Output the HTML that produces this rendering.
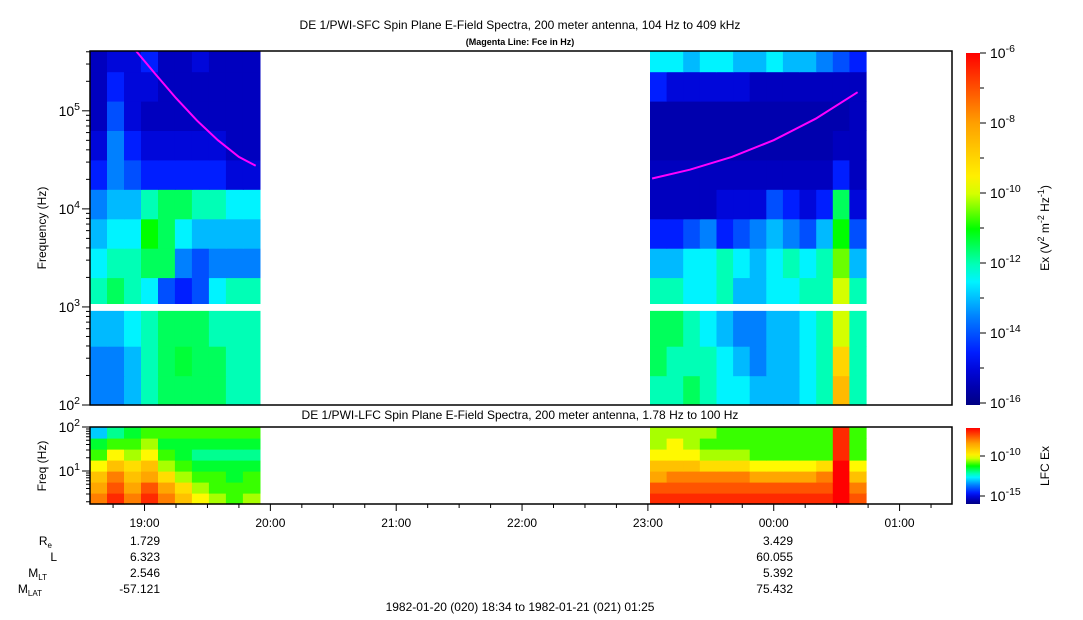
<!DOCTYPE html>
<html><head><meta charset="utf-8"><style>
body{margin:0;background:#fff;}
svg{display:block;font-family:"Liberation Sans",sans-serif;}
</style></head><body>
<svg id="c" width="1083" height="620" xmlns="http://www.w3.org/2000/svg"></svg>
<script>
// ---- data ----
const startMin = -26;           // minutes relative to 19:00 (18:34)
const endMin = 385;             // 01:25
const seg1 = [-26, 55];         // data span minutes (18:34 - 19:55)
const seg2 = [241, 344];        // 23:01 - 00:44
const sfcRowEdges = [2.0,2.3,2.6,3.0,3.3,3.6,3.9,4.2,4.5,4.8,5.1,5.4,5.61];
const sfcSeg1 = [
[-13.5,-13.5,-13,-12,-11.5,-11.5,-11.5,-11.5,-12,-12],
[-13.5,-13.5,-13,-12,-11.5,-11.3,-11.5,-11.5,-12,-12],
[-13,-13,-12.5,-12,-11.5,-11.5,-11.5,-12,-12,-12],
[-12,-11.5,-12,-12.5,-14,-14.5,-14,-12.5,-12,-12],
[-12.5,-12,-12,-11.5,-11.5,-13.5,-14,-13.5,-13.5,-13.5],
[-13,-12.5,-12.5,-11,-11.5,-12.5,-13,-13,-13,-13],
[-13.5,-13,-13,-12,-11.5,-11.5,-12,-12,-12.5,-12.5],
[-14.5,-13.5,-14,-14.5,-14.5,-14.5,-14.5,-14.5,-15,-15],
[-15,-13.5,-14.5,-15,-15,-15,-15,-15,-15.3,-15.3],
[-15.3,-14,-15,-15.3,-15.3,-15.3,-15.3,-15.3,-15.3,-15.3],
[-15.3,-14.5,-15,-15,-15.3,-15.3,-15.3,-15.3,-15.3,-15.3],
[-15.3,-15,-15,-14.5,-15.3,-15.3,-15,-15.3,-15.3,-15.3]
];
const sfcSeg2 = [
[-12,-12,-11.5,-12,-12.5,-12.5,-13,-13,-13,-12.5,-12,-8.5,-12],
[-11.5,-12,-12,-12,-12.5,-13,-13.5,-13,-13,-12.5,-12,-9,-12],
[-11.5,-11.5,-12,-12.5,-13,-13.5,-13.5,-13,-13,-12.5,-12,-10,-12],
[-12,-12,-12.5,-12.5,-12,-13,-13,-12.5,-12.5,-12,-12,-10,-12],
[-13,-13,-12.5,-12.5,-12,-12.5,-13,-12.5,-12,-12.5,-12,-10.5,-13],
[-14.5,-14.5,-14,-13.5,-14.5,-14,-13.5,-13,-13.5,-14,-13,-11,-14],
[-15.3,-15.3,-15.3,-15.3,-15,-15,-15,-14,-14.5,-15,-14.5,-11.5,-15],
[-15.3,-15.3,-15.3,-15.3,-15.3,-15.3,-15.3,-15.3,-15.3,-15.3,-15.3,-14.5,-15.3],
[-15.5,-15.5,-15.5,-15.5,-15.5,-15.5,-15.5,-15.5,-15.5,-15.5,-15.5,-15.3,-15.3],
[-15.5,-15.5,-15.5,-15.5,-15.5,-15.5,-15.5,-15.5,-15.5,-15.5,-15.5,-15.5,-15.3],
[-14.5,-15,-15,-15,-15,-15,-15.3,-15.3,-15.3,-15.3,-15.3,-15.3,-15.3],
[-12.5,-12.5,-13,-12.5,-12.5,-13,-13,-12.5,-13,-13,-13.5,-14,-14.5]
];
const lfcRowEdges = [0.25,0.5,0.75,1.0,1.25,1.5,1.75,2.0];
const lfcSeg1 = [
[-8,-7,-8,-7,-8,-9,-10,-10.5,-11,-10.5],
[-8.5,-7.5,-8.5,-7.5,-8.5,-9.5,-10.5,-11,-11,-11],
[-9,-8,-9,-8.5,-9.5,-10.5,-11,-11,-11.5,-11],
[-10,-9,-9.5,-9,-10.5,-11,-11.5,-11.5,-11.5,-11.5],
[-11,-10,-10.5,-10,-11,-11.5,-12,-12,-12,-12],
[-11.5,-11,-11,-10.5,-11.5,-11.5,-11.5,-11.5,-11.5,-11.5],
[-13,-12,-11.5,-11,-11,-11,-11,-11,-11,-11]
];
const lfcSeg2 = [
[-7,-7,-7,-7,-7,-7,-7,-7,-7,-7,-7,-6.5,-7.5],
[-7.5,-7.5,-7.5,-7.5,-7.5,-7.5,-7.5,-7.5,-7.5,-7.5,-7.5,-6.5,-8],
[-8.5,-8,-8,-8,-8,-8,-8.5,-8.5,-8.5,-8.5,-8,-6.5,-9],
[-9,-9,-9,-9.5,-9.5,-9.5,-10,-10,-10,-10,-9.5,-6.5,-10],
[-10,-10,-10,-10.5,-10.5,-10.5,-11,-11,-11,-11,-11,-7,-11],
[-10.5,-10,-10.5,-11,-11,-11,-11,-11,-11,-11,-11,-7,-11],
[-10.5,-10.5,-10.5,-10.5,-11,-11,-11,-11,-11,-11,-11,-7,-11]
];
const fce1Min = [-4,5,15,25,35,45,53];
const fce1Log = [5.61,5.38,5.13,4.9,4.7,4.53,4.44];
const fce2Min = [242,260,280,300,320,340];
const fce2Log = [4.31,4.4,4.53,4.7,4.92,5.19];
const timeTicks = ["19:00","20:00","21:00","22:00","23:00","00:00","01:00"];
const timeTickMin = [0,60,120,180,240,300,360];
const ephLabels = ["R","L","M","M"];
const ephSubs = ["e","","LT","LAT"];
const ephA = ["1.729","6.323","2.546","-57.121"];
const ephB = ["3.429","60.055","5.392","75.432"];

// ---- layout ----
const X0=90, X1=952, TY0=51, TY1=405, LY0=427, LY1=504;
const x = m => X0 + (m-startMin)/(endMin-startMin)*(X1-X0);
const yTop = l => TY1 - (l-2)/(5.61-2)*(TY1-TY0);
const yLow = l => LY1 - (l-0.25)/(2-0.25)*(LY1-LY0);
const NS="http://www.w3.org/2000/svg", svg=document.getElementById('c');
function mk(tag, attrs, parent){const e=document.createElementNS(NS,tag);for(const k in attrs)e.setAttribute(k,attrs[k]);(parent||svg).appendChild(e);return e;}
const stops=[[0,[0,0,130]],[0.08,[0,0,200]],[0.14,[0,20,255]],[0.25,[0,128,255]],[0.36,[0,255,255]],[0.5,[0,255,0]],[0.62,[255,255,0]],[0.8,[255,160,0]],[1,[255,0,0]]];
function cmap(t){t=Math.max(0,Math.min(1,t));for(let i=1;i<stops.length;i++){if(t<=stops[i][0]){const a=stops[i-1],b=stops[i],f=(t-a[0])/(b[0]-a[0]);return 'rgb('+a[1].map((v,j)=>Math.round(v+(b[1][j]-v)*f)).join(',')+')';}}return 'rgb(255,0,0)';}

function drawGrid(grid, seg, edges, yf, lo, hi, name){
  const g=mk('g',{});
  
  
  const nc=grid[0].length;
  for(let r=0;r<grid.length;r++){
    const ya=yf(edges[r+1]), yb=yf(edges[r]);
    for(let c=0;c<nc;c++){
      const xa=x(seg[0]+(seg[1]-seg[0])*c/nc), xb=x(seg[0]+(seg[1]-seg[0])*(c+1)/nc);
      const cell=mk('rect',{x:xa.toFixed(1),y:ya.toFixed(1),width:(xb-xa+0.6).toFixed(1),height:(yb-ya+0.6).toFixed(1),fill:cmap((grid[r][c]-lo)/(hi-lo))},g);
      
      
    }
  }
}
drawGrid(sfcSeg1,seg1,sfcRowEdges,yTop,-16,-6,'sfc-segment-1');
drawGrid(sfcSeg2,seg2,sfcRowEdges,yTop,-16,-6,'sfc-segment-2');
mk('rect',{x:X0,y:yTop(3.03),width:X1-X0,height:yTop(2.96)-yTop(3.03),fill:'#fff'});
drawGrid(lfcSeg1,seg1,lfcRowEdges,yLow,-16,-6.5,'lfc-segment-1');
drawGrid(lfcSeg2,seg2,lfcRowEdges,yLow,-16,-6.5,'lfc-segment-2');

function line(ms, ls, name){
  const p=mk('polyline',{points:ms.map((m,i)=>x(m).toFixed(1)+','+yTop(ls[i]).toFixed(1)).join(' '),fill:'none',stroke:'#ff00ff','stroke-width':2});
  
  
}
line(fce1Min,fce1Log,'fce-line-1');
line(fce2Min,fce2Log,'fce-line-2');

// frames
mk('rect',{x:X0,y:TY0,width:X1-X0,height:TY1-TY0,fill:'none',stroke:'#000','stroke-width':1.5});
mk('rect',{x:X0,y:LY0,width:X1-X0,height:LY1-LY0,fill:'none',stroke:'#000','stroke-width':1.5});

function text(s,xx,yy,attrs,name){const t=mk('text',Object.assign({x:xx,y:yy,'font-size':12,fill:'#000'},attrs||{}));t.textContent=s;return t;}
function pow(base,exp,xx,yy,anchor,name,fs){
  const t=mk('text',{x:xx,y:yy,'font-size':fs||14,'text-anchor':anchor||'end'});
  
  
  const a=mk('tspan',{},t);a.textContent=base;
  const b=mk('tspan',{dy:-6,'font-size':(fs||14)*0.75},t);b.textContent=exp;
}
// y ticks top
for(let d=2;d<=5;d++){
  for(let k=1;k<10;k++){const l=d+Math.log10(k);if(l>5.61)break;const yy=yTop(l);mk('line',{x1:X0-(k==1?8:4),x2:X0,y1:yy,y2:yy,stroke:'#000'});}
  pow('10',String(d),80,yTop(d)+5,'end','y-tick-label');
}
for(let d=0;d<=2;d++){
  for(let k=1;k<10;k++){const l=d+Math.log10(k);if(l<0.25)continue;if(l>2)break;const yy=yLow(l);mk('line',{x1:X0-(k==1?8:4),x2:X0,y1:yy,y2:yy,stroke:'#000'});}
  if(d>=1) pow('10',String(d),80,yLow(d)+5,'end','lfc-y-tick-label');
}
// x ticks
for(let m=-15;m<=endMin;m+=15){const xx=x(m);const major=m%60==0;mk('line',{x1:xx,x2:xx,y1:LY1,y2:LY1+(major?7:4),stroke:'#000'});}
timeTickMin.forEach((m,i)=>text(timeTicks[i],x(m),527,{'text-anchor':'middle'},'x-tick-label'));
// ephemeris
ephLabels.forEach((s,i)=>{const yy=545+i*16;const t=text(s,57,yy,{'text-anchor':'end'},'ephemeris-label');
 if(ephSubs[i]){t.setAttribute('x',57-ephSubs[i].length*5);const sb=mk('tspan',{dy:3,'font-size':8},t);sb.textContent=ephSubs[i];}
 text(ephA[i],160,yy,{'text-anchor':'end'},'ephemeris-value');text(ephB[i],793,yy,{'text-anchor':'end'},'ephemeris-value');});
text('1982-01-20 (020) 18:34 to 1982-01-21 (021) 01:25',520,611,{'text-anchor':'middle'},'time-range-label');
// titles
text('DE 1/PWI-SFC  Spin Plane E-Field Spectra, 200 meter antenna, 104 Hz to 409 kHz',520,29,{'text-anchor':'middle'},'chart-title');
text('(Magenta Line: Fce in Hz)',520,45,{'text-anchor':'middle','font-size':9,'font-weight':'bold'},'chart-subtitle');
text('DE 1/PWI-LFC  Spin Plane E-Field Spectra, 200 meter antenna, 1.78 Hz to 100 Hz',520,419,{'text-anchor':'middle'},'lfc-title');
text('Frequency (Hz)',0,0,{'text-anchor':'middle',transform:'translate(46,228) rotate(-90)'},'y-axis-title');
text('Freq (Hz)',0,0,{'text-anchor':'middle',transform:'translate(46,466) rotate(-90)'},'lfc-y-axis-title');
// colorbars
const defs=mk('defs',{});const lg=mk('linearGradient',{id:'cb',x1:0,y1:1,x2:0,y2:0},defs);
for(let i=0;i<=20;i++)mk('stop',{offset:i/20,'stop-color':cmap(i/20)},lg);
const CBX=966,CBW=14;
const cb1=mk('rect',{x:CBX,y:53,width:CBW,height:352,fill:'url(#cb)'});
const cb2=mk('rect',{x:CBX,y:428,width:CBW,height:76,fill:'url(#cb)'});
for(let e=-16;e<=-6;e++){const yy=403-(e+16)*35;mk('line',{x1:CBX+CBW,x2:CBX+CBW+(e%2==0?6:4),y1:yy,y2:yy,stroke:'#000'});if(e%2==0)pow('10',String(e),990,yy+5,'start','colorbar-tick-label');}
[-10,-15].forEach(e=>{const yy=456+(-10-e)*8;mk('line',{x1:CBX+CBW,x2:CBX+CBW+5,y1:yy,y2:yy,stroke:'#000'});pow('10',String(e),990,yy+5,'start','lfc-colorbar-tick-label');});
const ct=text('',0,0,{'text-anchor':'middle',transform:'translate(1049,228) rotate(-90)'},'colorbar-title');
ct.innerHTML='Ex (V<tspan dy="-5" font-size="9">2</tspan><tspan dy="5"> m</tspan><tspan dy="-5" font-size="9">-2</tspan><tspan dy="5"> Hz</tspan><tspan dy="-5" font-size="9">-1</tspan><tspan dy="5">)</tspan>';
text('LFC Ex',0,0,{'text-anchor':'middle',transform:'translate(1049,466) rotate(-90)'},'lfc-colorbar-title');
</script>
</body></html>
